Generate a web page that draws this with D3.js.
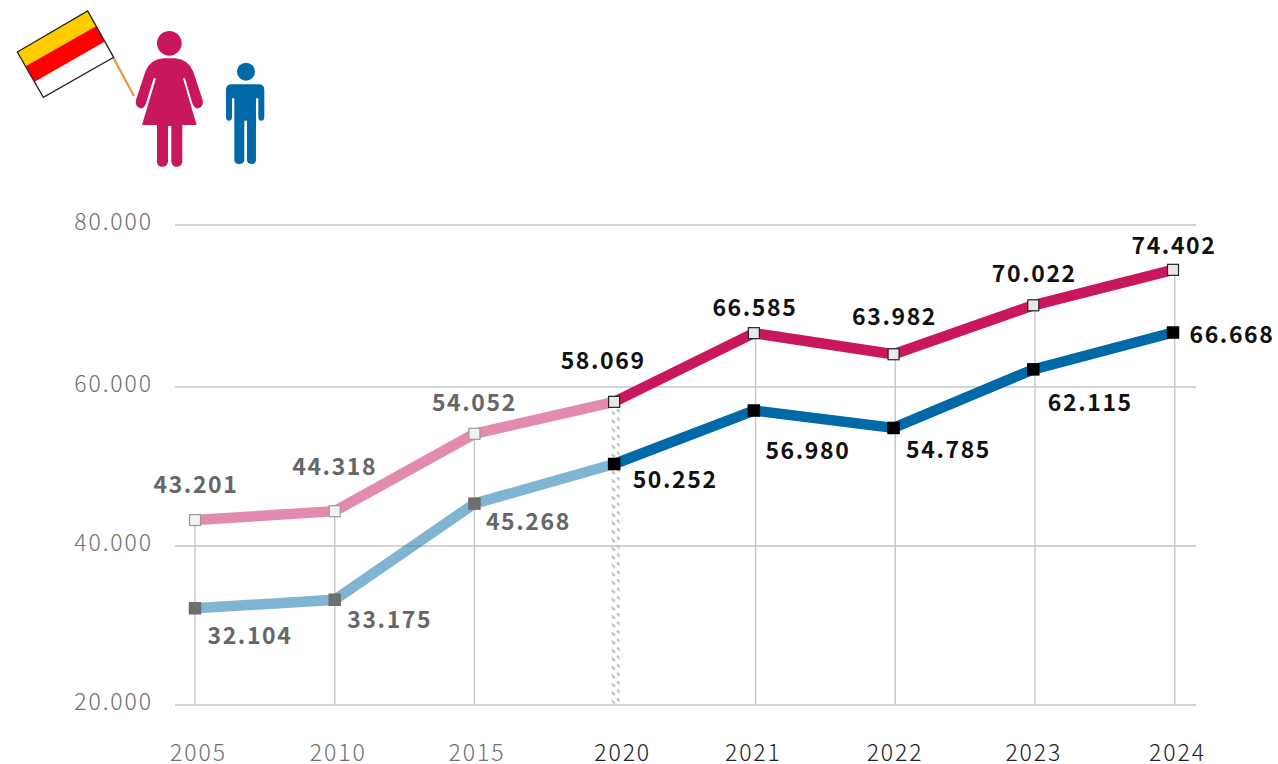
<!DOCTYPE html>
<html>
<head>
<meta charset="utf-8">
<script src="https://cdn.jsdelivr.net/npm/d3@7"></script>
<style>
  html, body { margin: 0; background: #fff; }
  svg { display: block; }
  text { font-family: "Noto Sans CJK JP", "Noto Sans", sans-serif; }
  .tick text { font-size: 23px; font-weight: 300; letter-spacing: 1.9px; }
  .value { font-size: 23px; font-weight: 700; letter-spacing: 1.6px; text-anchor: middle; dominant-baseline: central; }
</style>
</head>
<body>
<div id="chart"></div>
<script>
const years = ['2005', '2010', '2015', '2020', '2021', '2022', '2023', '2024'];
const women = [43201, 44318, 54052, 58069, 66585, 63982, 70022, 74402];
const men = [32104, 33175, 45268, 50252, 56980, 54785, 62115, 66668];
const yTicks = [20000, 40000, 60000, 80000];

// labels are hand placed in the original, offset from their point
const womenLabelOffset = [[1, -37], [0, -46], [0, -33], [-11, -43], [1, -27], [1, -39], [1, -33], [1, -26]];
const menLabelOffset = [[55, 26], [55, 18], [54, 16], [61, 14], [54, 38], [55, 20], [57, 32], [59, 1]];
const yearLabelOffset = [3, 3, 2, 8, -1, 1, 0, 4];

const width = 1278, height = 764;
const faded = 3; // first years are drawn lighter, up to 2020

const svg = d3.select('#chart').append('svg')
  .attr('width', width)
  .attr('height', height);

const x = d3.scalePoint().domain(years).range([195, 1173]);
const y = d3.scaleLinear().domain(yTicks).range([704.5, 545.5, 386.5, 224.5]);
const fmt = d3.formatLocale({ decimal: ',', thousands: '.', grouping: [3], currency: ['', ''] }).format(',d');

const defs = svg.append('defs');
const hatch = defs.append('pattern')
  .attr('id', 'hatch')
  .attr('patternUnits', 'userSpaceOnUse')
  .attr('width', 8)
  .attr('height', 8.5);
hatch.append('path')
  .attr('d', 'M1,1.5 L7,6.5')
  .attr('stroke', '#bdbdbd')
  .attr('stroke-width', 2.2);

// grid
const yAxis = svg.append('g')
  .attr('class', 'yaxis')
  .attr('transform', 'translate(175,0)')
  .call(d3.axisLeft(y).tickValues(yTicks).tickFormat(fmt).tickSize(-1021).tickPadding(22));
yAxis.select('.domain').remove();
yAxis.selectAll('line').attr('stroke', '#c6c6c6').attr('stroke-width', 1.4);
yAxis.selectAll('text').attr('fill', '#707070').attr('dy', '0.22em');

const xAxis = svg.append('g')
  .attr('class', 'xaxis')
  .attr('transform', 'translate(0,704.5)')
  .call(d3.axisBottom(x).tickSize(0).tickPadding(49));
xAxis.select('.domain').remove();
xAxis.selectAll('text')
  .attr('fill', (d, i) => i < faded ? '#707070' : '#222')
  .attr('dx', (d, i) => yearLabelOffset[i])
  .attr('dy', '0.32em');

// drop lines from the upper series, 2020 is hatched
svg.selectAll('.drop')
  .data(years)
  .enter()
  .append('rect')
  .attr('class', 'drop')
  .attr('x', (d, i) => i == faded ? x(d) - 2.4 : (i < faded ? x(d) - 0.7 : x(d) + 1))
  .attr('width', (d, i) => i == faded ? 8 : 1.4)
  .attr('y', (d, i) => y(women[i]))
  .attr('height', (d, i) => y(20000) - y(women[i]))
  .attr('fill', (d, i) => i == faded ? 'url(#hatch)' : '#c6c6c6');

function drawSeries(values, color, marker, markerOld, size, offsets, cls) {
  const pts = values.map((v, i) => ({ v: v, i: i, year: years[i] }));
  const g = svg.append('g').attr('class', cls);
  const line = d3.line().x(d => x(d.year)).y(d => y(d.v));

  g.append('path')
    .datum(pts.slice(0, faded + 1))
    .attr('d', line)
    .attr('fill', 'none')
    .attr('stroke', color)
    .attr('stroke-opacity', 0.5)
    .attr('stroke-width', 10.5);
  g.append('path')
    .datum(pts.slice(faded))
    .attr('d', line)
    .attr('fill', 'none')
    .attr('stroke', color)
    .attr('stroke-width', 10.5);

  g.selectAll('.marker')
    .data(pts)
    .enter()
    .append('rect')
    .attr('class', 'marker')
    .attr('x', d => x(d.year) - size / 2)
    .attr('y', d => y(d.v) - size / 2)
    .attr('width', size)
    .attr('height', size)
    .attr('fill', d => d.i < faded ? markerOld[0] : marker[0])
    .attr('stroke', d => d.i < faded ? markerOld[1] : marker[1])
    .attr('stroke-width', marker[1] == 'none' ? 0 : 1.2);

  g.selectAll('.value')
    .data(pts)
    .enter()
    .append('text')
    .attr('class', 'value')
    .attr('x', d => x(d.year) + offsets[d.i][0])
    .attr('y', d => y(d.v) + offsets[d.i][1])
    .attr('fill', d => d.i < faded ? '#666' : '#111')
    .text(d => fmt(d.v));
}

drawSeries(women, '#c8175d', ['#e8e8e8', '#222'], ['#f2f2f2', '#999'], 11, womenLabelOffset, 'women');
drawSeries(men, '#0069a8', ['#000', 'none'], ['#6e6e6e', 'none'], 12.5, menLabelOffset, 'men');

// icons, traced in 3x coordinates
const icons = svg.append('g').attr('transform', 'scale(0.3333)');

icons.append('line')
  .attr('x1', 340).attr('y1', 173).attr('x2', 402).attr('y2', 288)
  .attr('stroke', '#e8994a').attr('stroke-width', 7);
icons.append('path').attr('fill', '#fff')
  .attr('d', 'M52,156 L263,33 L341,172 L130,292 Z');
icons.append('path').attr('fill', '#ffcc00')
  .attr('d', 'M52,156 L263,33 L288,79 L77,199 Z');
icons.append('path').attr('fill', '#ff0000')
  .attr('d', 'M77,199 L288,79 L314,125 L104,245 Z');
icons.append('path').attr('fill', 'none').attr('stroke', '#222').attr('stroke-width', 4)
  .attr('d', 'M52,156 L263,33 L341,172 L130,292 Z');

icons.append('circle').attr('cx', 508).attr('cy', 130).attr('r', 37).attr('fill', '#c8175d');
icons.append('path').attr('fill', '#c8175d')
  .attr('d', 'M490,175 L525,175 Q565,178 580,215 L608,300 Q612,320 595,325 Q583,327 577,310 L555,235 L549,235 L590,375 L547,375 L547,485 Q545,500 530,500 Q516,500 514,485 L514,378 L504,378 L504,485 Q502,500 487,500 Q472,500 471,485 L471,375 L426,375 L468,235 L461,235 L438,310 Q433,327 421,325 Q404,320 408,300 L436,215 Q450,178 490,175 Z');

icons.append('circle').attr('cx', 738).attr('cy', 215).attr('r', 27).attr('fill', '#0069a8');
icons.append('path').attr('fill', '#0069a8')
  .attr('d', 'M695,253 L776,253 Q793,253 793,270 L793,350 Q793,362 784,362 Q775,362 775,350 L775,295 L768,295 L768,480 Q768,492 755,492 Q742,492 741,480 L741,362 L733,362 L733,480 Q732,492 717,492 Q704,492 703,480 L703,295 L696,295 L696,350 Q696,362 687,362 Q678,362 678,350 L678,270 Q678,253 695,253 Z');
</script>
</body>
</html>
